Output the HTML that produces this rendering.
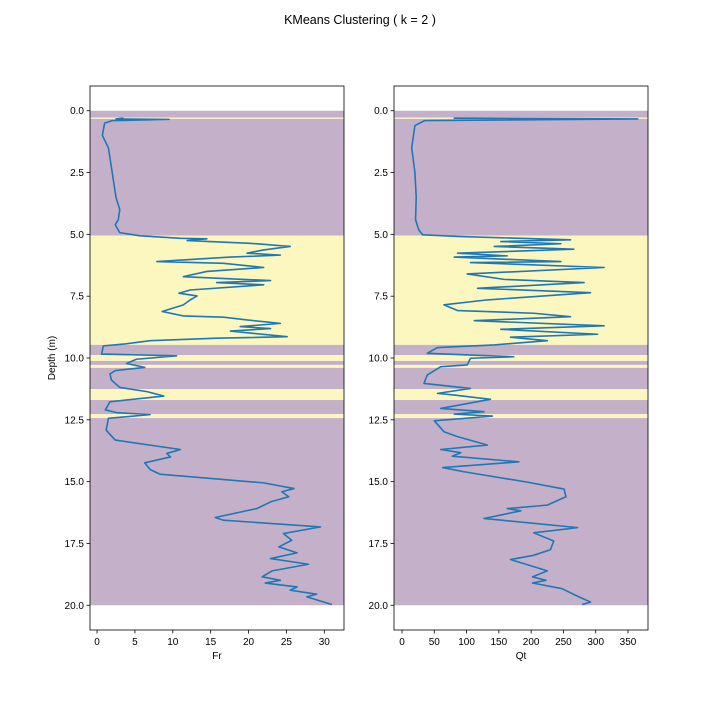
<!DOCTYPE html>
<html><head><meta charset="utf-8"><style>
body{margin:0;background:#fff;}
svg{display:block;font-family:"Liberation Sans","DejaVu Sans",sans-serif;}
</style></head><body>
<svg id="c" width="720" height="720">
<text x="360" y="24" text-anchor="middle" font-size="12.5">KMeans Clustering ( k = 2 )</text>
</svg>
<script>
const bandStart=[0,0.28,0.33,5.05,9.47,9.88,10.12,10.28,10.4,11.26,11.7,12.27,12.43];
const bandEnd=[0.28,0.33,5.05,9.47,9.88,10.12,10.28,10.4,11.26,11.7,12.27,12.43,20];
const bandCluster=[0,1,0,1,0,1,0,1,0,1,0,1,0];
const frDepth=[0.3,0.33,0.35,0.4,0.5,1.0,1.5,2.5,3.5,4.0,4.41,4.61,4.93,5.06,5.16,5.18,5.25,5.36,5.49,5.63,5.76,5.84,5.92,6.10,6.17,6.34,6.50,6.71,6.87,6.95,7.04,7.25,7.38,7.49,7.65,7.85,8.12,8.30,8.35,8.46,8.60,8.73,8.81,8.91,9.14,9.20,9.30,9.43,9.51,9.84,9.91,10.05,10.22,10.38,10.51,10.65,10.89,11.19,11.36,11.54,11.77,12.1,12.21,12.29,12.44,12.92,13.32,13.7,13.86,14.0,14.24,14.51,14.7,15.05,15.28,15.41,15.61,15.82,16.09,16.45,16.56,16.83,17.1,17.37,17.64,17.88,18.11,18.34,18.61,18.85,18.99,19.1,19.26,19.39,19.55,19.66,19.97];
const frValue=[3.5,2.5,9.5,2.0,1.0,0.7,1.5,2.0,2.5,3.0,2.8,2.4,3.0,5.7,11.0,14.5,11.9,20.2,25.5,22.0,19.8,24.2,17.6,7.9,16.7,22.0,14.5,11.4,22.9,15.8,22.0,12.3,10.8,13.2,12.3,11.4,8.6,11.4,16.7,19.8,24.2,18.9,22.9,17.6,25.1,15.8,7.0,3.7,0.84,0.6,10.5,5.2,3.9,6.3,2.4,1.7,1.9,3.0,6.6,8.8,1.7,1.1,2.6,7.0,1.5,1.2,2.4,11.0,9.2,9.7,6.3,7.0,8.3,22.0,26.0,24.4,25.3,22.9,21.1,15.6,16.7,29.5,24.6,25.7,24.0,26.4,22.9,27.9,23.1,21.8,24.2,22.2,26.4,25.5,29.0,27.7,31.0];
const qtDepth=[0.3,0.33,0.4,0.6,1.5,2.5,3.5,4.41,4.82,5.02,5.09,5.22,5.29,5.38,5.49,5.6,5.76,5.87,5.92,6.1,6.14,6.34,6.6,6.82,6.95,7.18,7.36,7.65,7.85,8.08,8.19,8.33,8.49,8.7,8.84,9.04,9.16,9.3,9.47,9.58,9.81,9.95,10.01,10.28,10.35,10.69,11.03,11.23,11.43,11.5,11.67,12.04,12.17,12.27,12.35,12.54,12.98,13.18,13.52,13.7,13.83,13.97,14.2,14.43,14.6,15.02,15.3,15.61,15.95,16.09,16.18,16.49,16.86,17.07,17.4,17.75,17.98,18.15,18.61,18.85,18.99,19.1,19.33,19.6,19.87,19.97];
const qtValue=[80,365,35,20,15,20,22,21,26,32,91,261,153,246,143,266,86,163,81,246,106,313,101,158,282,117,292,132,65,86,204,261,112,313,153,303,168,225,143,55,39,173,106,101,60,39,34,106,55,81,137,60,127,81,140,50,65,86,132,60,91,78,181,63,96,194,251,254,225,163,184,127,272,204,235,230,204,168,225,202,223,202,248,269,292,279];
const depthTicks=[0,2.5,5,7.5,10,12.5,15,17.5,20];
const depthTickLabels=["0.0","2.5","5.0","7.5","10.0","12.5","15.0","17.5","20.0"];
const frTicks=[0,5,10,15,20,25,30];
const qtTicks=[0,50,100,150,200,250,300,350];

const NS="http://www.w3.org/2000/svg";
const svg=document.getElementById('c');
function mk(tag,attrs,parent){const e=document.createElementNS(NS,tag);for(const k in attrs)e.setAttribute(k,attrs[k]);(parent||svg).appendChild(e);return e;}
const yTop=86,yBot=630,dMin=-1,dMax=21;
function yScale(d){return yTop+(d-dMin)/(dMax-dMin)*(yBot-yTop);}
function panel(x0,x1,vMin,vMax,dep,val,ticks,xlabel,name,showY){
  const xs=v=>x0+(v-vMin)/(vMax-vMin)*(x1-x0);
  const g=mk('g',{});
  
  
  for(let i=0;i<bandStart.length;i++){
    const r=mk('rect',{x:x0,y:yScale(bandStart[i]),width:x1-x0,height:yScale(bandEnd[i])-yScale(bandStart[i]),fill:bandCluster[i]?'#fcf6bf':'#c5b0c9'},g);
    
    
  }
  let p='';
  for(let i=0;i<dep.length;i++)p+=(i?'L':'M')+xs(val[i]).toFixed(2)+','+yScale(dep[i]).toFixed(2);
  const l=mk('path',{d:p,fill:'none',stroke:'#1f77b4','stroke-width':1.6,'stroke-linejoin':'round'},g);
  
  
  const fr=mk('rect',{x:x0,y:yTop,width:x1-x0,height:yBot-yTop,fill:'none',stroke:'#000','stroke-width':0.8},g);
  
  
  ticks.forEach(t=>{
    const x=xs(t);
    mk('line',{x1:x,x2:x,y1:yBot,y2:yBot+3.5,stroke:'#000','stroke-width':0.8},g);
    const tx=mk('text',{x:x,y:yBot+15,'text-anchor':'middle','font-size':10},g);
    tx.textContent=String(t);
    
    
  });
  depthTicks.forEach((d,i)=>{
    const y=yScale(d);
    mk('line',{x1:x0,x2:x0-3.5,y1:y,y2:y,stroke:'#000','stroke-width':0.8},g);
    const tx=mk('text',{x:x0-6,y:y+3.5,'text-anchor':'end','font-size':10},g);
    tx.textContent=depthTickLabels[i];
    
    
  });
  const xl=mk('text',{x:(x0+x1)/2,y:yBot+29,'text-anchor':'middle','font-size':10},g);
  xl.textContent=xlabel;
  
  
}
panel(90,344,-0.93,32.6,frDepth,frValue,frTicks,'Fr','fr',true);
panel(394,648,-12.4,381,qtDepth,qtValue,qtTicks,'Qt','qt',true);
const yl=mk('text',{x:0,y:0,'text-anchor':'middle','font-size':10,transform:'translate(55,358) rotate(-90)'});
yl.textContent='Depth (m)';


</script>
</body></html>
